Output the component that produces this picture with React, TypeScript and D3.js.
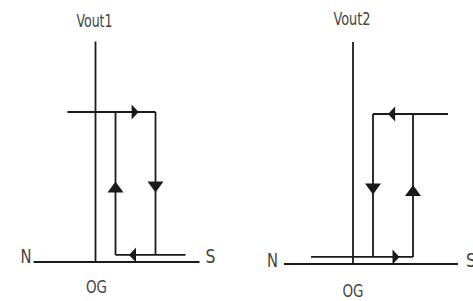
import * as d3 from 'd3';

// two hysteresis panels: field axis (N..S) and output level
const panelTitles = ['Vout1', 'Vout2'];
const originX = [95.5, 353];
const baseY = [262, 264];
const highY = [112, 114];
const axisTop = [1.47, 1.48];
const axisRange = [[-3.1, 5.2], [-3.45, 5.25]];

// thresholds of the loop (field units)
const lowThreshold = [1, 1];
const highThreshold = [3, 3];
const highLevel = 1;
const lowLevel = 0.047;

// extents of the two horizontal branches
const upperBranch = [[-1.4, 3], [1, 4.75]];
const lowerBranch = [[1, 4.5], [-2.1, 3]];

// arrows: [x, y, direction]
const arrows1 = [[1.98, 1, 'right'], [3, 0.5, 'down'], [1.85, 0.047, 'left'], [1, 0.5, 'up']];
const arrows2 = [[1.93, 1, 'left'], [1, 0.5, 'down'], [2.15, 0.047, 'right'], [3, 0.49, 'up']];
const arrowSets = [arrows1, arrows2];

const ink = '#1a1a1a';
const textInk = '#444';
const font = '"DejaVu Sans Condensed", "DejaVu Sans", sans-serif';

function arrowPath(px: number, py: number, dir: string) {
  const p = d3.path();
  if (dir === 'right' || dir === 'left') {
    const s = dir === 'right' ? 1 : -1;
    p.moveTo(px + s * 3.5, py);
    p.lineTo(px - s * 3.5, py - 7.5);
    p.lineTo(px - s * 3.5, py + 7.5);
  } else {
    const s = dir === 'down' ? 1 : -1;
    p.moveTo(px, py + s * 5.5);
    p.lineTo(px - 8, py - s * 5.5);
    p.lineTo(px + 8, py - s * 5.5);
  }
  p.closePath();
  return p.toString();
}

function Panel({ i }: { i: number }) {
  const x = d3.scaleLinear().domain([0, 1]).range([originX[i], originX[i] + 20]);
  const y = d3.scaleLinear().domain([0, highLevel]).range([baseY[i], highY[i]]);
  const [a0, a1] = axisRange[i];
  const [u0, u1] = upperBranch[i];
  const [l0, l1] = lowerBranch[i];
  const line = d3.line<[number, number]>().x(d => x(d[0])).y(d => y(d[1]));
  const segs: [number, number][][] = [
    [[a0, 0], [a1, 0]],
    [[0, 0], [0, axisTop[i]]],
    [[u0, highLevel], [u1, highLevel]],
    [[l0, lowLevel], [l1, lowLevel]],
    [[lowThreshold[i], lowLevel], [lowThreshold[i], highLevel]],
    [[highThreshold[i], lowLevel], [highThreshold[i], highLevel]],
  ];
  return (
    <g>
      {segs.map((s, k) => (
        <path key={k} d={line(s) || ''} stroke={ink} strokeWidth={k === 2 ? 2.2 : 1.8} fill="none" />
      ))}
      {arrowSets[i].map((a, k) => (
        <path key={'a' + k} d={arrowPath(x(a[0] as number), y(a[1] as number), a[2] as string)} fill={ink} />
      ))}
      <text x={x(0) - 1} y={i === 0 ? 27 : 25} textAnchor="middle" fontFamily={font} fontSize={17}
        fill={textInk} textLength={i === 0 ? 36 : 37} lengthAdjust="spacingAndGlyphs">
        {panelTitles[i]}
      </text>
      <text x={x(a0) - (i === 0 ? 2 : 6)} y={y(0) + (i === 0 ? 1 : 3)} textAnchor="end" fontFamily={font}
        fontSize={20} fill={textInk} textLength={11} lengthAdjust="spacingAndGlyphs">N</text>
      <text x={x(a1) + (i === 0 ? 6 : 8)} y={y(0) + (i === 0 ? 1 : 3)} fontFamily={font}
        fontSize={20} fill={textInk} textLength={10} lengthAdjust="spacingAndGlyphs">S</text>
      <text x={x(0) + (i === 0 ? 1 : 0)} y={y(0) + (i === 0 ? 31 : 33)} textAnchor="middle" fontFamily={font}
        fontSize={18} fill={textInk} textLength={21} lengthAdjust="spacingAndGlyphs">OG</text>
    </g>
  );
}

export default function App() {
  return (
    <svg width={473} height={301} style={{ position: 'absolute', left: 0, top: 0, background: '#fff' }}>
      <rect width={473} height={301} fill="#fff" />
      {panelTitles.map((_, i) => <Panel key={i} i={i} />)}
    </svg>
  );
}
